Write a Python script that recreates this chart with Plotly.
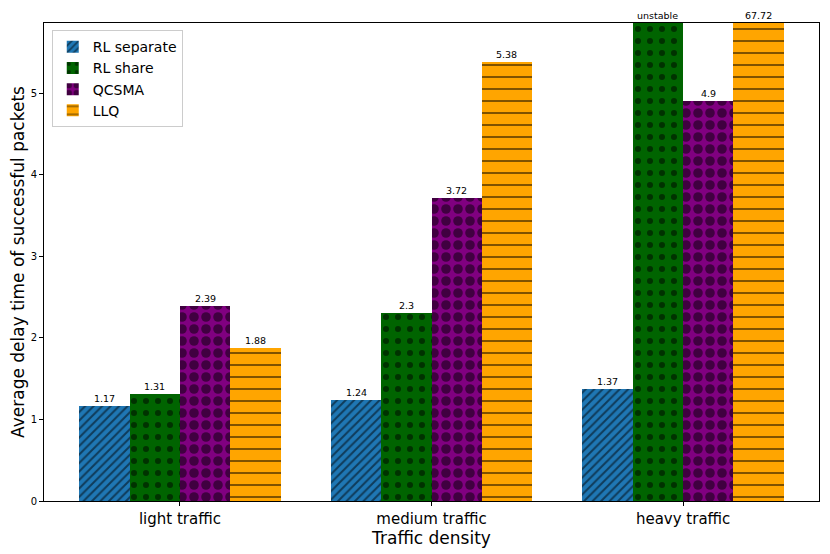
import plotly.graph_objects as go

categories = ["light traffic", "medium traffic", "heavy traffic"]
methods = ["RL separate", "RL share", "QCSMA", "LLQ"]

rl_separate = [1.17, 1.24, 1.37]
rl_share = [1.31, 2.3, 100.0]      # heavy traffic: unstable (off scale)
qcsma = [2.39, 3.72, 4.9]
llq = [1.88, 5.38, 67.72]

rl_separate_labels = ["1.17", "1.24", "1.37"]
rl_share_labels = ["1.31", "2.3", "unstable"]
qcsma_labels = ["2.39", "3.72", "4.9"]
llq_labels = ["1.88", "5.38", "67.72"]

series = [rl_separate, rl_share, qcsma, llq]
labels = [rl_separate_labels, rl_share_labels, qcsma_labels, llq_labels]
colors = ["#1f77b4", "#006400", "#800080", "#ffa500"]
shapes = ["/", ".", ".", "-"]
pat_sizes = [6, 12, 12, 12]
pat_solid = [0.33, 0.2, 0.5, 0.17]

y_max = 5.86
bar_w = 0.2
x_pos = list(range(len(categories)))

fig = go.Figure()
annotations = []
for k, (name, vals) in enumerate(zip(methods, series)):
    off = -0.4 + k * bar_w
    fig.add_trace(go.Bar(
        x=x_pos,
        y=vals,
        name=name,
        width=bar_w,
        offset=off,
        marker=dict(
            color=colors[k],
            line=dict(width=0),
            pattern=dict(shape=shapes[k], fgcolor="black", bgcolor=colors[k],
                         size=pat_sizes[k], solidity=pat_solid[k], fillmode="overlay"),
        ),
        hoverinfo="y+name",
    ))
    for i, v in enumerate(vals):
        annotations.append(dict(
            x=i + off + bar_w / 2, y=min(v, y_max), xref="x", yref="y",
            text=labels[k][i], showarrow=False, yanchor="bottom", yshift=0,
            font=dict(size=9.5, color="black"),
        ))

# page body has an 8px margin, so the figure is sized to fit the window
fig.update_layout(
    width=822,
    height=546,
    margin=dict(l=36, r=11, t=15, b=53),
    plot_bgcolor="white",
    paper_bgcolor="white",
    font=dict(family="DejaVu Sans", color="black"),
    showlegend=True,
    legend=dict(
        x=0.01, y=0.985, xanchor="left", yanchor="top",
        bgcolor="rgba(255,255,255,0.8)", bordercolor="#cccccc", borderwidth=1,
        font=dict(size=14), tracegroupgap=0, itemwidth=30,
    ),
    annotations=annotations,
    bargap=0,
)
fig.update_xaxes(
    range=[-0.54, 2.54], tickvals=x_pos, ticktext=categories,
    tickfont=dict(size=15), ticks="outside", ticklen=4, tickcolor="black",
    showline=True, linecolor="black", linewidth=1, mirror=True,
    showgrid=False, zeroline=False, automargin=False,
    title=dict(text="Traffic density", font=dict(size=17), standoff=1),
)
fig.update_yaxes(
    range=[0, y_max], tickvals=[0, 1, 2, 3, 4, 5],
    tickfont=dict(size=10), ticks="outside", ticklen=4, tickcolor="black",
    showline=True, linecolor="black", linewidth=1, mirror=True,
    showgrid=False, zeroline=False, automargin=False,
    title=dict(text="Average delay time of successful packets", font=dict(size=17), standoff=6),
)

fig.write_html("out.html")
